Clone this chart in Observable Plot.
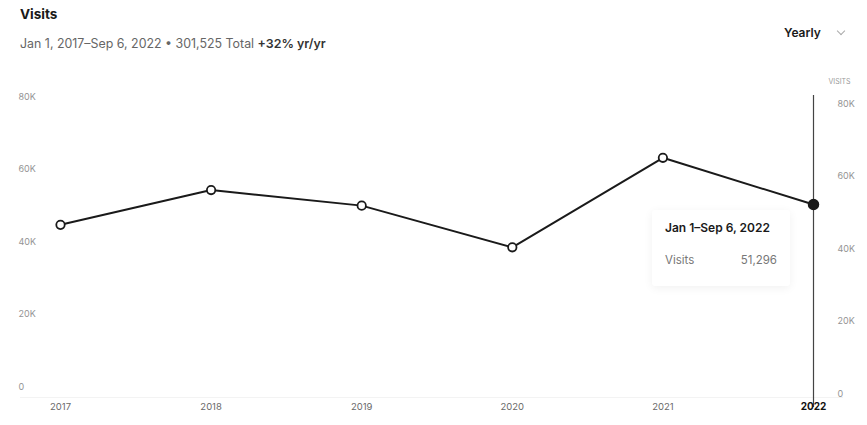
<!DOCTYPE html>
<html><head><meta charset="utf-8">
<script src="https://cdn.jsdelivr.net/npm/d3@7"></script>
<script src="https://cdn.jsdelivr.net/npm/@observablehq/plot@0.6"></script>
<style>
body{margin:0;background:#fff;font-family:Inter,"Open Sans",sans-serif;}
#wrap{position:relative;width:867px;height:425px;overflow:hidden;background:#fff}
#head{position:relative;height:70px}
.title{position:absolute;left:20px;top:6px;font-size:13.5px;font-weight:700;color:#1a1a1a}
.sub{position:absolute;left:20px;top:36px;font-size:12.4px;color:#666}
.sub b{color:#333;font-weight:600}
.period{position:absolute;left:784px;top:25px;font-size:12px;font-weight:600;color:#1a1a1a}
.chev{position:absolute;left:838px;top:28px;width:5px;height:5px;border-right:1.2px solid #aaa;border-bottom:1.2px solid #aaa;transform:rotate(45deg)}
#chart{position:absolute;left:0;top:70px}
#tip{position:absolute;background:#fff;box-shadow:0 2px 10px rgba(0,0,0,0.06);border-radius:3px;width:138px;height:76px}
#tip .t{position:absolute;left:13px;top:10px;font-size:12px;font-weight:600;color:#1a1a1a}
#tip .l{position:absolute;left:13px;top:43px;font-size:11.5px;color:#777}
#tip .v{position:absolute;right:13px;top:43px;font-size:11.5px;color:#777}
</style></head><body>
<div id="wrap">
 <div id="head">
  <div class="title">Visits</div>
  <div class="sub">Jan 1, 2017–Sep 6, 2022 • 301,525 Total <b>+32% yr/yr</b></div>
  <div class="period">Yearly</div><div class="chev"></div>
 </div>
 <div id="chart"></div>
 <div id="tip"><div class="t">Jan 1–Sep 6, 2022</div><div class="l">Visits</div><div class="v">51,296</div></div>
</div>
<script>
const years = [2017, 2018, 2019, 2020, 2021, 2022];
const visits = [45700, 55300, 51000, 39500, 64200, 51296];
const yearLabels = ["2017", "2018", "2019", "2020", "2021", "2022"];
const yTicks = [0, 20000, 40000, 60000, 80000];
const yTickLabels = ["0", "20K", "40K", "60K", "80K"];
const axisTitle = "VISITS";

const data = years.map((y, i) => ({year: y, visits: visits[i], label: yearLabels[i]}));
const ticks = yTicks.map((v, i) => ({v, label: yTickLabels[i]}));
const last = data[data.length - 1];

const plot = Plot.plot({
  width: 867, height: 355,
  marginLeft: 60, marginRight: 54, marginTop: 30, marginBottom: 35,
  style: {fontFamily: "Inter, 'Open Sans', sans-serif", background: "transparent"},
  x: {type: "linear", domain: [2017, 2022], axis: null},
  y: {domain: [0, 80000], axis: null},
  marks: [
    Plot.ruleY([0], {stroke: "#f3f3f3", strokeWidth: 1, dy: 7, insetLeft: -40, insetRight: -30}),
    Plot.ruleX([last.year], {stroke: "#444", strokeWidth: 1.2, insetTop: -5, insetBottom: -17}),
    Plot.text(ticks, {y: "v", text: "label", frameAnchor: "left", textAnchor: "start", dx: -42, dy: -3.5, fill: "#949494", fontSize: 9}),
    Plot.text(ticks, {y: "v", text: "label", frameAnchor: "right", textAnchor: "start", dx: 24, dy: 3.5, fill: "#949494", fontSize: 9}),
    Plot.text([axisTitle], {text: d => d, frameAnchor: "top-right", textAnchor: "start", dx: 15, dy: -21, fill: "#9a9a9a", fontSize: 7}),
    Plot.text(data.slice(0, -1), {x: "year", text: "label", frameAnchor: "bottom", dy: 19, fill: "#6a6a6a", fontSize: 9.5}),
    Plot.text([last], {x: "year", text: "label", frameAnchor: "bottom", dy: 19, fill: "#111", fontSize: 10, fontWeight: 700}),
    Plot.line(data, {x: "year", y: "visits", stroke: "#1a1a1a", strokeWidth: 2}),
    Plot.dot(data.slice(0, -1), {x: "year", y: "visits", r: 4.2, fill: "#fff", stroke: "#1a1a1a", strokeWidth: 1.8}),
    Plot.dot([last], {x: "year", y: "visits", r: 5, fill: "#1a1a1a", stroke: "#1a1a1a"})
  ]
});
document.getElementById("chart").appendChild(plot);

const sx = plot.scale("x"), sy = plot.scale("y");
const px = sx.apply(last.year), py = sy.apply(last.visits);
const tip = document.getElementById("tip");
tip.style.left = (px - 161) + "px";
tip.style.top = (70 + py + 6) + "px";
</script>
</body></html>
